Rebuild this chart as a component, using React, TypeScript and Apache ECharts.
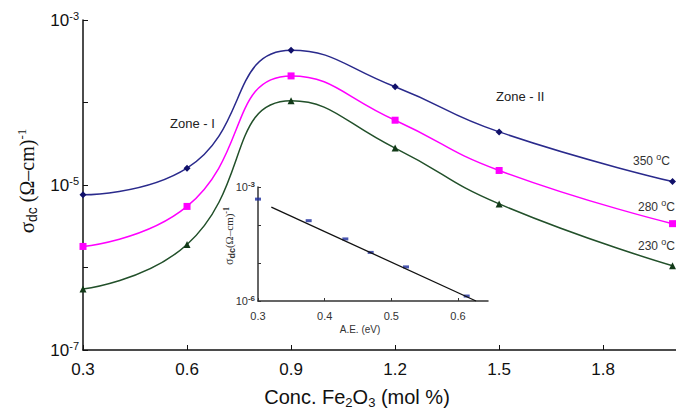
import React, { useEffect, useRef } from "react";
import * as echarts from "echarts";

const concentrations = [0.3, 0.6, 0.9, 1.2, 1.5, 2.0];
const sigma350 = [7.6e-6, 1.6e-5, 4.3e-4, 1.55e-4, 4.4e-5, 1.1e-5];
const sigma280 = [1.8e-6, 5.5e-6, 2.1e-4, 6.1e-5, 1.5e-5, 3.4e-6];
const sigma230 = [5.5e-7, 1.9e-6, 1.05e-4, 2.8e-5, 5.9e-6, 1.05e-6];
const xTicks = [0.3, 0.6, 0.9, 1.2, 1.5, 1.8];
const yLabelExps = [-3, -5, -7];

const activationEnergy = [0.3, 0.376, 0.431, 0.469, 0.522, 0.613];
const insetSigma = [4.8e-4, 1.3e-4, 4.3e-5, 1.9e-5, 7.9e-6, 1.35e-6];
const fitAE = [0.32, 0.627];
const fitSigma = [2.95e-4, 1.0e-6];
const insetXTicks = [0.3, 0.4, 0.5, 0.6];
const insetYLabelExps = [-3, -6];

const BLUE = "#2a2a8c";
const MAGENTA = "#ff00ff";
const GREEN = "#22502a";

function pairs(xs: number[], ys: number[]) {
  return xs.map((x, i) => [x, ys[i]]);
}

export default function App() {
  const ref = useRef<HTMLDivElement>(null);
  useEffect(() => {
    if (!ref.current) return;
    const chart = echarts.init(ref.current, null, { renderer: "svg" });
    const sans = "Arial, 'Liberation Sans', sans-serif";
    const serif = "'Liberation Serif', 'Times New Roman', serif";
    const tempLabel = (t: string, x: number, y: number) => ({
      type: "text",
      x,
      y,
      style: {
        text: `{t|${t} }{o|o}{t|C}`,
        textVerticalAlign: "middle",
        rich: {
          t: { fontSize: 12, fontFamily: sans, fill: "#333", lineHeight: 18 },
          o: { fontSize: 9, fontFamily: sans, fill: "#333", verticalAlign: "top", lineHeight: 9 },
        },
      },
    });
    chart.setOption({
      animation: false,
      backgroundColor: "#ffffff",
      grid: [
        { left: 83, right: 0, top: 20, bottom: 66 },
        { left: 258, right: 188, top: 187, bottom: 115 },
      ],
      xAxis: [
        {
          type: "value",
          gridIndex: 0,
          min: 0.3,
          max: 2.01,
          splitLine: { show: false },
          axisLine: { lineStyle: { color: "#111", width: 1.5 } },
          axisTick: { inside: true, length: 5, customValues: xTicks, lineStyle: { color: "#111" } },
          axisLabel: {
            customValues: xTicks,
            margin: 11,
            fontSize: 17,
            fontFamily: sans,
            color: "#111",
            formatter: (v: number) => v.toFixed(1),
          },
        },
        {
          type: "value",
          gridIndex: 1,
          min: 0.3,
          max: 0.645,
          splitLine: { show: false },
          axisLine: { lineStyle: { color: "#333", width: 1.5 } },
          axisTick: { inside: true, length: 3, customValues: insetXTicks, lineStyle: { color: "#333" } },
          axisLabel: {
            customValues: insetXTicks,
            margin: 9,
            fontSize: 11,
            fontFamily: sans,
            color: "#333",
            formatter: (v: number) => v.toFixed(1),
          },
        },
      ],
      yAxis: [
        {
          type: "log",
          gridIndex: 0,
          logBase: 10,
          min: 1e-7,
          max: 1e-3,
          splitNumber: 4,
          splitLine: { show: false },
          minorTick: { show: false },
          axisLine: { show: true, lineStyle: { color: "#111", width: 1.5 } },
          axisTick: { show: true, inside: true, length: 5, lineStyle: { color: "#111" } },
          axisLabel: {
            margin: 4,
            formatter: (v: number) => {
              const e = Math.round(Math.log10(v));
              return yLabelExps.includes(e) ? `{a|10}{b|${e}}` : "";
            },
            rich: {
              a: { fontSize: 17, fontFamily: sans, color: "#111", lineHeight: 20 },
              b: { fontSize: 11, fontFamily: sans, color: "#111", verticalAlign: "top", lineHeight: 11 },
            },
          },
        },
        {
          type: "log",
          gridIndex: 1,
          logBase: 10,
          min: 1e-6,
          max: 1e-3,
          splitNumber: 3,
          splitLine: { show: false },
          minorTick: { show: false },
          axisLine: { show: true, lineStyle: { color: "#333", width: 1.5 } },
          axisTick: { show: true, inside: true, length: 3, lineStyle: { color: "#333" } },
          axisLabel: {
            margin: 3,
            formatter: (v: number) => {
              const e = Math.round(Math.log10(v));
              return insetYLabelExps.includes(e) ? `{a|10}{b|${e}}` : "";
            },
            rich: {
              a: { fontSize: 11, fontFamily: sans, color: "#333", lineHeight: 13 },
              b: { fontSize: 8, fontFamily: sans, color: "#333", fontWeight: "bold", verticalAlign: "top", lineHeight: 8 },
            },
          },
        },
      ],
      series: [
        {
          name: "350 °C",
          type: "line",
          xAxisIndex: 0,
          yAxisIndex: 0,
          smooth: 0.5,
          data: pairs(concentrations, sigma350),
          symbol: "diamond",
          symbolSize: 7,
          lineStyle: { color: BLUE, width: 1.5 },
          itemStyle: { color: "#10106a" },
        },
        {
          name: "280 °C",
          type: "line",
          xAxisIndex: 0,
          yAxisIndex: 0,
          smooth: 0.5,
          data: pairs(concentrations, sigma280),
          symbol: "rect",
          symbolSize: 7,
          lineStyle: { color: MAGENTA, width: 1.5 },
          itemStyle: { color: MAGENTA },
        },
        {
          name: "230 °C",
          type: "line",
          xAxisIndex: 0,
          yAxisIndex: 0,
          smooth: 0.5,
          data: pairs(concentrations, sigma230),
          symbol: "triangle",
          symbolSize: 7,
          lineStyle: { color: GREEN, width: 1.5 },
          itemStyle: { color: "#123a18" },
        },
        {
          name: "fit",
          type: "line",
          xAxisIndex: 1,
          yAxisIndex: 1,
          data: pairs(fitAE, fitSigma),
          symbol: "none",
          lineStyle: { color: "#111", width: 1.3 },
        },
        {
          name: "inset",
          type: "scatter",
          xAxisIndex: 1,
          yAxisIndex: 1,
          data: pairs(activationEnergy, insetSigma),
          symbol: "rect",
          symbolSize: [6, 3],
          itemStyle: { color: "#1c2c9c" },
        },
      ],
      graphic: [
        {
          type: "text",
          x: 27,
          y: 181,
          rotation: Math.PI / 2,
          style: {
            text: "{s|σ}{d|dc}{p| (Ω–cm)}{e|-1}",
            textAlign: "center",
            textVerticalAlign: "middle",
            rich: {
              s: { fontSize: 21, fontFamily: serif, fill: "#111", lineHeight: 24 },
              d: { fontSize: 14, fontFamily: sans, fill: "#111", verticalAlign: "bottom", lineHeight: 14 },
              p: { fontSize: 20, fontFamily: serif, fill: "#111", lineHeight: 24 },
              e: { fontSize: 13, fontFamily: serif, fill: "#111", verticalAlign: "top", lineHeight: 13 },
            },
          },
        },
        {
          type: "text",
          x: 357,
          y: 397,
          style: {
            text: "{n|Conc. Fe}{s|2}{n|O}{s|3}{n| (mol %)}",
            textAlign: "center",
            textVerticalAlign: "middle",
            rich: {
              n: { fontSize: 20, fontFamily: sans, fill: "#111", lineHeight: 24 },
              s: { fontSize: 13, fontFamily: sans, fill: "#111", verticalAlign: "bottom", lineHeight: 13 },
            },
          },
        },
        {
          type: "text",
          x: 229,
          y: 236,
          rotation: Math.PI / 2,
          style: {
            text: "{s|σ}{d|dc}{p|(Ω–cm)}{e|-1}",
            textAlign: "center",
            textVerticalAlign: "middle",
            rich: {
              s: { fontSize: 12, fontFamily: serif, fill: "#333", lineHeight: 14 },
              d: { fontSize: 9, fontFamily: sans, fill: "#333", fontWeight: "bold", verticalAlign: "bottom", lineHeight: 9 },
              p: { fontSize: 11, fontFamily: serif, fill: "#333", lineHeight: 14 },
              e: { fontSize: 8, fontFamily: serif, fill: "#333", fontWeight: "bold", verticalAlign: "top", lineHeight: 8 },
            },
          },
        },
        {
          type: "text",
          x: 360,
          y: 329,
          style: {
            text: "A.E. (eV)",
            textAlign: "center",
            textVerticalAlign: "middle",
            fontSize: 10,
            fontFamily: sans,
            fill: "#333",
          },
        },
        {
          type: "text",
          x: 170,
          y: 123,
          style: { text: "Zone - I", textVerticalAlign: "middle", fontSize: 13, fontFamily: sans, fill: "#222" },
        },
        {
          type: "text",
          x: 496,
          y: 96,
          style: { text: "Zone - II", textVerticalAlign: "middle", fontSize: 13, fontFamily: sans, fill: "#222" },
        },
        tempLabel("350", 633, 161),
        tempLabel("280", 638, 207),
        tempLabel("230", 638, 246),
      ],
    });
    return () => chart.dispose();
  }, []);
  return (
    <div
      ref={ref}
      style={{ position: "fixed", left: 0, top: 0, width: 676, height: 416, background: "#fff" }}
    />
  );
}
